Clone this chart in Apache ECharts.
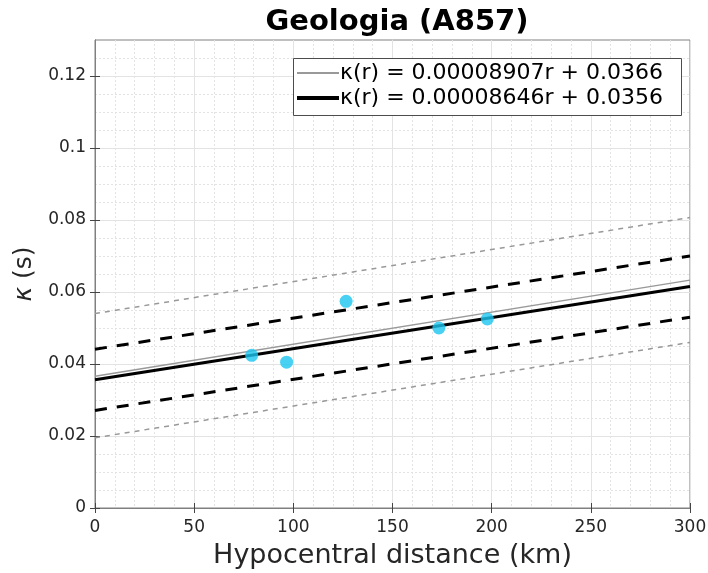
<!DOCTYPE html>
<html>
<head>
<meta charset="utf-8">
<script src="https://cdn.jsdelivr.net/npm/echarts@6/dist/echarts.min.js"></script>
<style>html,body{margin:0;padding:0;background:#fff}#c{width:708px;height:573px}</style>
</head>
<body>
<div id="c"></div>
<script>
// Data
var xRange = [0, 300];
var obsDist = [79.0, 96.6, 126.6, 173.4, 197.8];
var obsKappa = [0.0424, 0.0405, 0.0574, 0.0500, 0.0525];
var grayFit = [0.0366, 0.0633];          // kappa at r=0 and r=300
var blackFit = [0.0356, 0.0615];
var blackUpper = [0.0441, 0.0700];
var blackLower = [0.0271, 0.0530];
var grayUpper = [0.0540, 0.0807];
var grayLower = [0.0195, 0.0460];
var legendNames = ['\u03ba(r) = 0.00008907r + 0.0366', '\u03ba(r) = 0.00008646r + 0.0356'];
var xTicks = [0, 50, 100, 150, 200, 250, 300];
var yTicks = [0, 0.02, 0.04, 0.06, 0.08, 0.1, 0.12];
var yTickLabels = ['0', '0.02', '0.04', '0.06', '0.08', '0.1', '0.12'];

function seg(v) { return [[xRange[0], v[0]], [xRange[1], v[1]]]; }
var FONT = 'DejaVu Sans';
var chart = echarts.init(document.getElementById('c'));
var gridLine = {show: true, lineStyle: {color: '#e3e3e3', width: 1}};
var minorLine = {show: true, lineStyle: {color: '#e3e3e3', width: 1, type: [2, 2]}};
var legendText = {fontFamily: FONT, fontSize: 22, color: '#000', padding: [0, 0, 0, -4]};
chart.setOption({
  animation: false,
  backgroundColor: '#fff',
  textStyle: {fontFamily: FONT},
  title: {
    text: 'Geologia (A857)', left: 392, top: 3, textAlign: 'center',
    textStyle: {fontFamily: FONT, fontSize: 29, fontWeight: 'bold', color: '#000'}
  },
  grid: {left: 95, right: 18, top: 40, bottom: 65, show: true, borderColor: '#808080', borderWidth: 1,
         containLabel: false, outerBoundsMode: 'none'},
  graphic: [{
    type: 'rect', shape: {x: 293.5, y: 58.5, width: 388, height: 57},
    style: {fill: '#fff', stroke: '#4d4d4d', lineWidth: 1}, z: 10
  }],
  legend: [{
    data: [legendNames[0]], left: 297, top: 62, icon: 'rect',
    padding: 0, itemWidth: 42, itemHeight: 2, itemGap: 0,
    textStyle: legendText, z: 11
  }, {
    data: [legendNames[1]], left: 297, top: 87, icon: 'rect',
    padding: 0, itemWidth: 42, itemHeight: 4, itemGap: 0,
    textStyle: legendText, z: 11
  }],
  xAxis: [{
    type: 'value', min: 0, max: 300, interval: 50,
    name: 'Hypocentral distance (km)', nameLocation: 'middle', nameGap: 34,
    nameTextStyle: {fontFamily: FONT, fontSize: 27, color: '#262626'},
    axisLine: {show: true, lineStyle: {color: '#808080'}},
    axisTick: {show: true, inside: true, length: 5, lineStyle: {color: '#444'}},
    axisLabel: {fontFamily: FONT, fontSize: 17, color: '#262626', margin: 11},
    splitLine: gridLine,
    minorTick: {show: false, splitNumber: 5},
    minorSplitLine: minorLine
  }, {
    type: 'value', min: 0, max: 300, interval: 50, position: 'top',
    axisLine: {show: true, lineStyle: {color: '#808080'}},
    axisTick: {show: true, inside: true, length: 5, lineStyle: {color: '#444'}},
    axisLabel: {show: false}, splitLine: {show: false}
  }],
  yAxis: [{
    type: 'value', min: 0, max: 0.13, interval: 0.02,
    name: '{k|\u03ba} (s)', nameLocation: 'middle', nameGap: 58, nameRotate: 90,
    nameTextStyle: {fontFamily: FONT, fontSize: 25, color: '#262626',
      rich: {k: {fontFamily: FONT, fontSize: 25, color: '#262626', fontStyle: 'italic'}}},
    axisLine: {show: true, lineStyle: {color: '#808080'}},
    axisTick: {show: true, inside: true, length: 5, customValues: yTicks, lineStyle: {color: '#444'}},
    axisLabel: {
      fontFamily: FONT, fontSize: 17, color: '#262626', margin: 9,
      formatter: function (v) { var i = Math.round(v / 0.02); return (Math.abs(v - i * 0.02) < 1e-9 && i < yTickLabels.length) ? yTickLabels[i] : ''; }
    },
    splitLine: gridLine,
    minorTick: {show: false, splitNumber: 4},
    minorSplitLine: minorLine
  }, {
    type: 'value', min: 0, max: 0.13, interval: 0.02, position: 'right',
    axisLine: {show: true, lineStyle: {color: '#808080'}},
    axisTick: {show: true, inside: true, length: 5, customValues: yTicks, lineStyle: {color: '#444'}},
    axisLabel: {show: false}, splitLine: {show: false}
  }],
  series: [
    {type: 'line', data: seg(grayUpper), symbol: 'none', silent: true, lineStyle: {color: '#999', width: 1.5, type: [5, 5]}, z: 2},
    {type: 'line', data: seg(grayLower), symbol: 'none', silent: true, lineStyle: {color: '#999', width: 1.5, type: [5, 5]}, z: 2},
    {type: 'line', data: seg(blackUpper), symbol: 'none', silent: true, lineStyle: {color: '#000', width: 3, type: [12, 10]}, z: 3},
    {type: 'line', data: seg(blackLower), symbol: 'none', silent: true, lineStyle: {color: '#000', width: 3, type: [12, 10]}, z: 3},
    {name: legendNames[0], type: 'line', data: seg(grayFit), symbol: 'none', lineStyle: {color: '#999', width: 1.5}, itemStyle: {color: '#999'}, z: 4},
    {name: legendNames[1], type: 'line', data: seg(blackFit), symbol: 'none', lineStyle: {color: '#000', width: 3}, itemStyle: {color: '#000'}, z: 4},
    {type: 'scatter', data: obsDist.map(function (d, i) { return [d, obsKappa[i]]; }), symbolSize: 13, itemStyle: {color: '#1ac6f0'}, z: 5}
  ]
});
</script>
</body>
</html>
